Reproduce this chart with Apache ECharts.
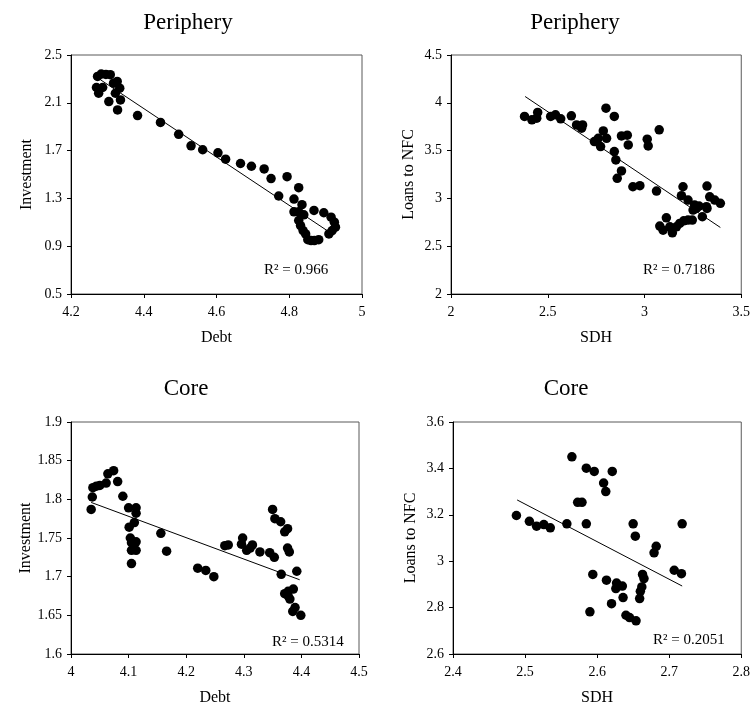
<!DOCTYPE html>
<html>
<head>
<meta charset="utf-8">
<script src="https://cdn.jsdelivr.net/npm/echarts@6/dist/echarts.min.js"></script>
<style>html,body{margin:0;padding:0;background:#fff}#c{width:753px;height:707px}</style>
</head>
<body>
<div id="c"></div>
<script>
// Panel 1: Periphery, Debt vs Investment
const periDebtInv = [[4.273,2.321],[4.283,2.340],[4.296,2.337],[4.308,2.335],[4.270,2.228],[4.287,2.228],[4.276,2.180],[4.304,2.110],[4.317,2.264],[4.327,2.279],[4.322,2.180],[4.334,2.222],[4.336,2.124],[4.328,2.040],[4.383,1.993],[4.446,1.936],[4.496,1.836],[4.530,1.740],[4.562,1.707],[4.604,1.681],[4.625,1.628],[4.666,1.592],[4.696,1.569],[4.731,1.547],[4.750,1.466],[4.771,1.320],[4.794,1.482],[4.813,1.294],[4.826,1.390],[4.835,1.247],[4.813,1.188],[4.826,1.188],[4.840,1.163],[4.826,1.115],[4.831,1.073],[4.838,1.031],[4.845,1.003],[4.851,0.955],[4.860,0.947],[4.869,0.947],[4.881,0.955],[4.868,1.199],[4.895,1.180],[4.915,1.143],[4.924,1.101],[4.927,1.059],[4.918,1.031],[4.909,1.003]];
const periDebtInvTrend = [[4.281,2.293],[4.904,1.031]];
// Panel 2: Periphery, SDH vs Loans to NFC
const periSdhLoans = [[2.380,3.857],[2.418,3.822],[2.443,3.839],[2.448,3.899],[2.515,3.857],[2.540,3.874],[2.567,3.832],[2.622,3.864],[2.649,3.769],[2.680,3.769],[2.675,3.734],[2.741,3.594],[2.761,3.629],[2.787,3.706],[2.773,3.542],[2.804,3.629],[2.801,3.944],[2.844,3.857],[2.881,3.654],[2.911,3.661],[2.916,3.559],[2.844,3.490],[2.852,3.402],[2.881,3.287],[2.859,3.210],[2.940,3.122],[2.976,3.133],[3.014,3.619],[3.019,3.549],[3.076,3.717],[3.062,3.077],[3.079,2.710],[3.096,2.668],[3.113,2.797],[3.131,2.703],[3.144,2.640],[3.165,2.703],[3.182,2.738],[3.203,2.766],[3.225,2.773],[3.247,2.773],[3.251,2.878],[3.259,2.930],[3.268,2.895],[3.225,2.983],[3.191,3.028],[3.199,3.122],[3.299,2.808],[3.282,2.920],[3.320,2.913],[3.323,3.129],[3.337,3.017],[3.363,2.983],[3.392,2.948],[3.323,2.895]];
const periSdhLoansTrend = [[2.383,4.066],[3.392,2.696]];
// Panel 3: Core, Debt vs Investment
const coreDebtInv = [[4.035,1.787],[4.037,1.803],[4.038,1.815],[4.044,1.817],[4.050,1.818],[4.061,1.821],[4.064,1.833],[4.074,1.837],[4.081,1.823],[4.090,1.804],[4.100,1.789],[4.113,1.789],[4.113,1.782],[4.101,1.764],[4.110,1.770],[4.103,1.750],[4.105,1.744],[4.113,1.745],[4.105,1.734],[4.113,1.734],[4.105,1.717],[4.156,1.756],[4.166,1.733],[4.220,1.711],[4.234,1.708],[4.248,1.700],[4.267,1.740],[4.273,1.741],[4.298,1.750],[4.296,1.742],[4.305,1.734],[4.315,1.741],[4.311,1.737],[4.328,1.732],[4.345,1.731],[4.353,1.725],[4.350,1.787],[4.354,1.775],[4.364,1.771],[4.371,1.758],[4.376,1.762],[4.376,1.737],[4.379,1.732],[4.365,1.703],[4.392,1.707],[4.371,1.678],[4.377,1.675],[4.380,1.671],[4.386,1.684],[4.385,1.655],[4.389,1.660],[4.399,1.650],[4.377,1.681]];
const coreDebtInvTrend = [[4.035,1.796],[4.397,1.696]];
// Panel 4: Core, SDH vs Loans to NFC
const coreSdhLoans = [[2.488,3.197],[2.506,3.172],[2.516,3.151],[2.526,3.158],[2.535,3.144],[2.558,3.161],[2.565,3.450],[2.573,3.254],[2.579,3.254],[2.585,3.401],[2.585,3.161],[2.596,3.387],[2.590,2.782],[2.594,2.943],[2.609,3.337],[2.612,3.300],[2.621,3.387],[2.613,2.918],[2.620,2.817],[2.627,2.906],[2.626,2.882],[2.635,2.893],[2.640,2.767],[2.645,2.757],[2.654,2.743],[2.636,2.843],[2.650,3.161],[2.653,3.108],[2.663,2.943],[2.665,2.925],[2.662,2.889],[2.660,2.870],[2.659,2.839],[2.679,3.036],[2.682,3.064],[2.707,2.961],[2.717,2.946],[2.718,3.161]];
const coreSdhLoansTrend = [[2.489,3.264],[2.718,2.893]];

const panelTitles = ['Periphery','Periphery','Core','Core'];
const xNames = ['Debt','SDH','Debt','SDH'];
const yNames = ['Investment','Loans to NFC','Investment','Loans to NFC'];
const r2Labels = ['R\u00b2 = 0.966','R\u00b2 = 0.7186','R\u00b2 = 0.5314','R\u00b2 = 0.2051'];
const xTicks1 = [4.2,4.4,4.6,4.8,5];
const yTicks1 = [0.5,0.9,1.3,1.7,2.1,2.5];
const xTicks2 = [2,2.5,3,3.5];
const yTicks2 = [2,2.5,3,3.5,4,4.5];
const xTicks3 = [4,4.1,4.2,4.3,4.4,4.5];
const yTicks3 = [1.6,1.65,1.7,1.75,1.8,1.85,1.9];
const xTicks4 = [2.4,2.5,2.6,2.7,2.8];
const yTicks4 = [2.6,2.8,3,3.2,3.4,3.6];

const FONT = '"Liberation Serif","Times New Roman",serif';
const scatters = [periDebtInv, periSdhLoans, coreDebtInv, coreSdhLoans];
const trends = [periDebtInvTrend, periSdhLoansTrend, coreDebtInvTrend, coreSdhLoansTrend];
const xTicks = [xTicks1,xTicks2,xTicks3,xTicks4];
const yTicks = [yTicks1,yTicks2,yTicks3,yTicks4];

const grids = [
  {left:71, top:55, width:291, height:239},
  {left:451, top:55, width:291, height:239},
  {left:71, top:422, width:288, height:233},
  {left:453, top:422, width:289, height:233}
];
const yNameGaps = [36, 34, 36, 34];

function fmt(v){ return String(Math.round(v*1000)/1000); }

const option = {
  animation:false,
  backgroundColor:'#fff',
  grid: grids.map(g=>Object.assign({show:true, borderColor:'#595959', borderWidth:1, containLabel:false}, g)),
  xAxis: grids.map((g,i)=>({
    type:'value', gridIndex:i,
    min:xTicks[i][0], max:xTicks[i][xTicks[i].length-1],
    name:xNames[i], nameLocation:'middle', nameGap:36,
    nameTextStyle:{fontFamily:FONT, fontSize:16, color:'#000'},
    axisLine:{show:true, onZero:false, lineStyle:{color:'#000', width:1}},
    axisTick:{show:true, inside:false, length:4, lineStyle:{color:'#000'}, customValues:xTicks[i]},
    axisLabel:{fontFamily:FONT, fontSize:14, color:'#000', margin:11, customValues:xTicks[i], formatter:fmt, showMinLabel:true, showMaxLabel:true},
    splitLine:{show:false}
  })),
  yAxis: grids.map((g,i)=>({
    type:'value', gridIndex:i,
    min:yTicks[i][0], max:yTicks[i][yTicks[i].length-1],
    name:yNames[i], nameLocation:'middle', nameGap:yNameGaps[i],
    nameTextStyle:{fontFamily:FONT, fontSize:16, color:'#000'},
    axisLine:{show:true, onZero:false, lineStyle:{color:'#000', width:1}},
    axisTick:{show:true, inside:false, length:4, lineStyle:{color:'#000'}, customValues:yTicks[i]},
    axisLabel:{fontFamily:FONT, fontSize:14, color:'#000', margin:9, customValues:yTicks[i], formatter:fmt, showMinLabel:true, showMaxLabel:true},
    splitLine:{show:false}
  })),
  series: [].concat(
    scatters.map((d,i)=>({
      type:'scatter', xAxisIndex:i, yAxisIndex:i, data:d,
      symbol:'circle', symbolSize:9.5, itemStyle:{color:'#000', opacity:1}, z:3
    })),
    trends.map((d,i)=>({
      type:'line', xAxisIndex:i, yAxisIndex:i, data:d,
      symbol:'none', lineStyle:{color:'#000', width:1}, z:4, silent:true
    }))
  ),
  graphic: [
    {type:'text', x:188, y:23, style:{text:panelTitles[0], font:'23px '+FONT, fill:'#000', textAlign:'center', textVerticalAlign:'middle'}},
    {type:'text', x:575, y:23, style:{text:panelTitles[1], font:'23px '+FONT, fill:'#000', textAlign:'center', textVerticalAlign:'middle'}},
    {type:'text', x:186, y:389, style:{text:panelTitles[2], font:'23px '+FONT, fill:'#000', textAlign:'center', textVerticalAlign:'middle'}},
    {type:'text', x:566, y:389, style:{text:panelTitles[3], font:'23px '+FONT, fill:'#000', textAlign:'center', textVerticalAlign:'middle'}},
    {type:'text', x:264, y:270, style:{text:r2Labels[0], font:'15px '+FONT, fill:'#000', textAlign:'left', textVerticalAlign:'middle'}},
    {type:'text', x:643, y:270, style:{text:r2Labels[1], font:'15px '+FONT, fill:'#000', textAlign:'left', textVerticalAlign:'middle'}},
    {type:'text', x:272, y:642, style:{text:r2Labels[2], font:'15px '+FONT, fill:'#000', textAlign:'left', textVerticalAlign:'middle'}},
    {type:'text', x:653, y:640, style:{text:r2Labels[3], font:'15px '+FONT, fill:'#000', textAlign:'left', textVerticalAlign:'middle'}}
  ]
};
const chart = echarts.init(document.getElementById('c'), null, {renderer:'canvas'});
chart.setOption(option);
</script>
</body>
</html>
